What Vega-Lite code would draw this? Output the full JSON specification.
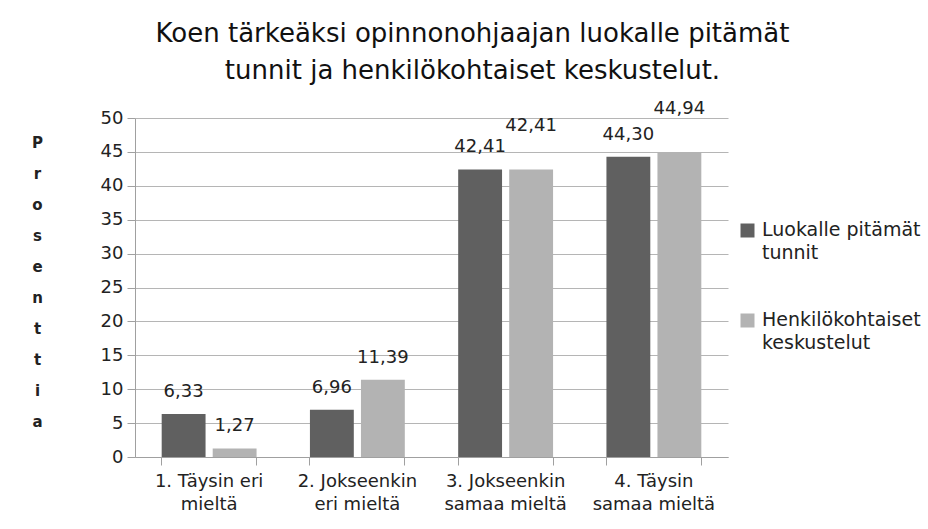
{
  "$schema": "https://vega.github.io/schema/vega-lite/v6.json",
  "width": 593,
  "height": 339,
  "autosize": {"type": "none"},
  "padding": {"left": 135, "top": 118, "right": 200, "bottom": 72},
  "background": "white",
  "config": {
    "view": {"stroke": null},
    "font": "DejaVu Sans",
    "locale": {"number": {"decimal": ",", "thousands": " ", "grouping": [3], "currency": ["", "€"]}},
    "axis": {
      "domainColor": "#a0a0a0",
      "tickColor": "#a0a0a0",
      "gridColor": "#b5b5b5",
      "labelColor": "#222222",
      "labelFont": "DejaVu Sans",
      "labelFontSize": 18,
      "tickSize": 8
    }
  },
  "title": {
    "text": ["Koen tärkeäksi opinnonohjaajan luokalle pitämät", "tunnit ja henkilökohtaiset keskustelut."],
    "fontSize": 26,
    "fontWeight": "normal",
    "font": "DejaVu Sans",
    "lineHeight": 37,
    "anchor": "middle",
    "dx": 41,
    "offset": 16,
    "color": "#111111"
  },
  "data": {
    "values": [
      {"category": "1. Täysin eri mieltä", "series": "Luokalle pitämät tunnit", "value": 6.33},
      {"category": "1. Täysin eri mieltä", "series": "Henkilökohtaiset keskustelut", "value": 1.27},
      {"category": "2. Jokseenkin eri mieltä", "series": "Luokalle pitämät tunnit", "value": 6.96},
      {"category": "2. Jokseenkin eri mieltä", "series": "Henkilökohtaiset keskustelut", "value": 11.39},
      {"category": "3. Jokseenkin samaa mieltä", "series": "Luokalle pitämät tunnit", "value": 42.41},
      {"category": "3. Jokseenkin samaa mieltä", "series": "Henkilökohtaiset keskustelut", "value": 42.41},
      {"category": "4. Täysin samaa mieltä", "series": "Luokalle pitämät tunnit", "value": 44.30},
      {"category": "4. Täysin samaa mieltä", "series": "Henkilökohtaiset keskustelut", "value": 44.94}
    ]
  },
  "encoding": {
    "x": {
      "field": "category",
      "type": "nominal",
      "sort": ["1. Täysin eri mieltä", "2. Jokseenkin eri mieltä", "3. Jokseenkin samaa mieltä", "4. Täysin samaa mieltä"],
      "scale": {"paddingInner": 0.36, "paddingOuter": 0.18}
    },
    "xOffset": {
      "field": "series",
      "type": "nominal",
      "sort": ["Luokalle pitämät tunnit", "Henkilökohtaiset keskustelut"],
      "scale": {"paddingInner": 0.14, "paddingOuter": 0}
    },
    "y": {
      "field": "value",
      "type": "quantitative",
      "scale": {"domain": [0, 50], "nice": false},
      "axis": {
        "values": [0, 5, 10, 15, 20, 25, 30, 35, 40, 45, 50],
        "grid": true,
        "labelPadding": 4,
        "title": ["P", "r", "o", "s", "e", "n", "t", "t", "i", "a"],
        "titleAngle": 0,
        "titleFontWeight": "bold",
        "titleFontSize": 15,
        "titleFont": "DejaVu Sans",
        "titleColor": "#222222",
        "titleLineHeight": 31,
        "titleAlign": "center",
        "titleBaseline": "top",
        "titleX": -98,
        "titleY": 17
      }
    }
  },
  "layer": [
    {
      "mark": {"type": "bar"},
      "encoding": {
        "x": {
          "field": "category",
          "type": "nominal",
          "sort": ["1. Täysin eri mieltä", "2. Jokseenkin eri mieltä", "3. Jokseenkin samaa mieltä", "4. Täysin samaa mieltä"],
          "axis": {
            "orient": "bottom",
            "title": null,
            "labelAngle": 0,
            "ticks": false,
            "domain": true,
            "labelPadding": 15,
            "labelLineHeight": 23,
            "labelExpr": "datum.label == '1. Täysin eri mieltä' ? ['1. Täysin eri', 'mieltä'] : datum.label == '2. Jokseenkin eri mieltä' ? ['2. Jokseenkin', 'eri mieltä'] : datum.label == '3. Jokseenkin samaa mieltä' ? ['3. Jokseenkin', 'samaa mieltä'] : ['4. Täysin', 'samaa mieltä']"
          }
        },
        "color": {
          "field": "series",
          "type": "nominal",
          "scale": {"domain": ["Luokalle pitämät tunnit", "Henkilökohtaiset keskustelut"], "range": ["#606060", "#b3b3b3"]},
          "legend": {
            "orient": "none",
            "legendX": 603,
            "legendY": 103,
            "title": null,
            "symbolType": "square",
            "symbolSize": 196,
            "symbolStrokeWidth": 0,
            "symbolOpacity": 1,
            "labelFont": "DejaVu Sans",
            "labelFontSize": 19,
            "labelColor": "#222222",
            "labelOffset": 5,
            "labelBaseline": "top",
            "labelLimit": 300,
            "rowPadding": 47,
            "labelExpr": "datum.label == 'Luokalle pitämät tunnit' ? ['Luokalle pitämät', 'tunnit'] : ['Henkilökohtaiset', 'keskustelut']",
            "encode": {"labels": {"update": {"lineHeight": {"value": 23}, "dy": {"value": -10}}}}
          }
        }
      }
    },
    {
      "transform": [{"filter": "datum.series == 'Luokalle pitämät tunnit' || datum.value < 40"}],
      "mark": {"type": "text", "dy": -22, "fontSize": 18, "font": "DejaVu Sans", "color": "#222222"},
      "encoding": {
        "x": {
          "field": "category",
          "type": "nominal",
          "sort": ["1. Täysin eri mieltä", "2. Jokseenkin eri mieltä", "3. Jokseenkin samaa mieltä", "4. Täysin samaa mieltä"],
          "axis": {"orient": "bottom", "title": null, "labels": false, "domain": false, "ticks": true, "bandPosition": 0}
        },
        "text": {"field": "value", "type": "quantitative", "format": ".2f"}
      }
    },
    {
      "transform": [{"filter": "datum.series == 'Henkilökohtaiset keskustelut' && datum.value >= 40"}],
      "mark": {"type": "text", "dy": -43, "fontSize": 18, "font": "DejaVu Sans", "color": "#222222"},
      "encoding": {
        "x": {
          "field": "category",
          "type": "nominal",
          "sort": ["1. Täysin eri mieltä", "2. Jokseenkin eri mieltä", "3. Jokseenkin samaa mieltä", "4. Täysin samaa mieltä"],
          "axis": {"orient": "bottom", "title": null, "labels": false, "domain": false, "ticks": true, "bandPosition": 1}
        },
        "text": {"field": "value", "type": "quantitative", "format": ".2f"}
      }
    }
  ],
  "resolve": {"axis": {"x": "independent"}}
}
